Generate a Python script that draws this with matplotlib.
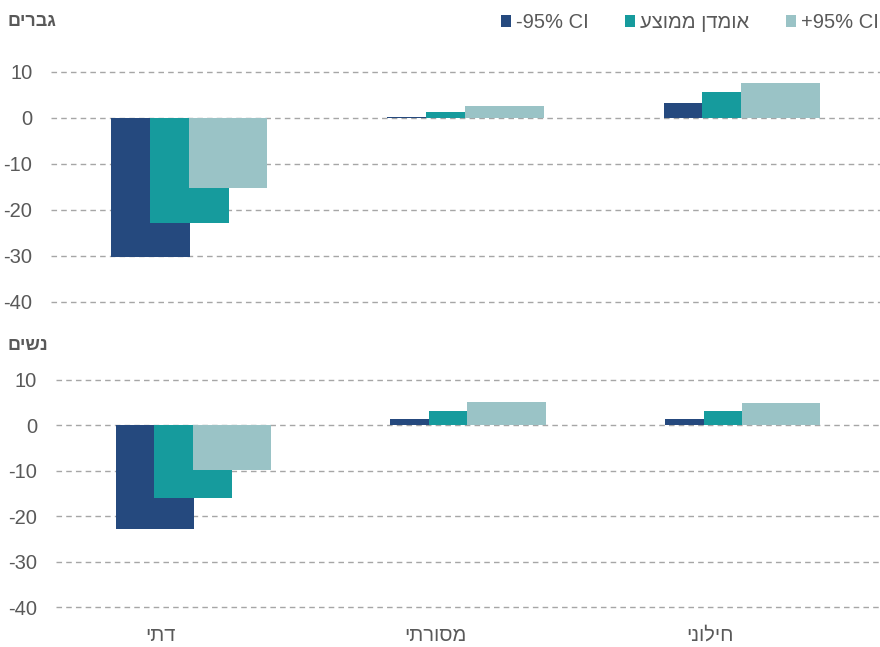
import matplotlib
matplotlib.use("Agg")
import matplotlib.pyplot as plt
from matplotlib.patches import Patch
import numpy as np

plt.rcParams["font.family"] = ["Liberation Sans", "DejaVu Sans"]

# data
categories = ["דתי", "מסורתי", "חילוני"]
series_names = ["-95% CI", "אומדן ממוצע", "+95% CI"]
men_low = [-30.3, 0.3, 3.2]
men_mean = [-22.9, 1.4, 5.6]
men_high = [-15.2, 2.6, 7.7]
women_low = [-22.9, 1.3, 1.3]
women_mean = [-16.1, 3.1, 3.1]
women_high = [-9.8, 5.2, 4.9]
yticks = [10, 0, -10, -20, -30, -40]

colors = ["#25497E", "#169B9D", "#9AC3C6"]
text_gray = "#595959"


def vis(s):
    # matplotlib has no bidi support, so flip Hebrew to visual order
    return s[::-1] if any("\u0590" <= c <= "\u05ff" for c in s) else s


def draw_panel(ax, values, show_cats):
    x = np.arange(len(categories))
    width = 0.285
    offsets = [-0.14, 0.0, 0.14]
    for i, (vals, off) in enumerate(zip(values, offsets)):
        ax.bar(x + off, vals, width, color=colors[i], linewidth=0, zorder=3 + i)
    ax.set_xlim(-0.5, len(categories) - 0.5)
    ax.set_ylim(-40.5, 10.5)
    ax.set_yticks(yticks)
    ax.set_yticklabels([str(t) for t in yticks])
    ax.yaxis.grid(True, linestyle=(0, (4, 3)), color="#A6A6A6", linewidth=1.0, zorder=0)
    ax.set_axisbelow(True)
    for sp in ax.spines.values():
        sp.set_visible(False)
    ax.tick_params(axis="y", length=0, labelsize=14.5, labelcolor=text_gray, pad=13.5)
    ax.tick_params(axis="x", length=0, labelsize=14.5, labelcolor=text_gray, pad=12)
    # the category labels sit a little left of the bar groups
    ax.set_xticks(x - 0.12)
    if show_cats:
        ax.set_xticklabels([vis(c) for c in categories])
    else:
        ax.set_xticklabels([])


fig = plt.figure(figsize=(8.8, 6.47), dpi=100)
ax1 = fig.add_axes([0.058, 0.5297, 0.942, 0.3626])
ax2 = fig.add_axes([0.0636, 0.0583, 0.9364, 0.358])

draw_panel(ax1, [men_low, men_mean, men_high], False)
draw_panel(ax2, [women_low, women_mean, women_high], True)

fig.text(0.009, 0.966, vis("גברים"), fontsize=13, fontweight="bold",
         color=text_gray, ha="left", va="center")
fig.text(0.009, 0.466, vis("נשים"), fontsize=13, fontweight="bold",
         color=text_gray, ha="left", va="center")

handles = [Patch(facecolor=c, edgecolor="none") for c in colors]
fig.legend(handles, [vis(s) for s in series_names], ncol=3, loc="upper right",
           bbox_to_anchor=(1.019, 1.008), frameon=False, fontsize=14.5,
           handlelength=0.5, handleheight=0.5, handletextpad=0.25,
           columnspacing=1.8, labelcolor=text_gray)

fig.savefig("out.png", dpi=100)
